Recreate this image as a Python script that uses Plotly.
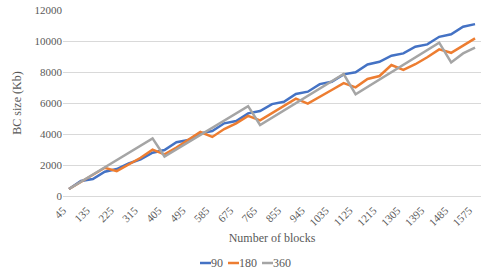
import plotly.graph_objects as go

blocks = [45 * (i + 1) for i in range(35)]
categories = [str(b) for b in blocks]
tick_labels = [str(b) for b in blocks[::2]]
y_ticks = [0, 2000, 4000, 6000, 8000, 10000, 12000]

s90 = [450, 965, 1100, 1570, 1740, 2100, 2360, 2790, 2970, 3470, 3610, 4040, 4190, 4690, 4840, 5330,
       5480, 5930, 6080, 6580, 6730, 7220, 7370, 7850, 7980, 8490, 8660, 9050, 9200, 9630, 9780, 10270,
       10430, 10920, 11090]
s180 = [450, 920, 1380, 1820, 1600, 2060, 2470, 2990, 2680, 3120, 3610, 4130, 3810, 4320, 4690, 5170,
        4880, 5330, 5800, 6280, 5960, 6380, 6840, 7280, 7010, 7550, 7740, 8450, 8140, 8500, 8950, 9460,
        9240, 9700, 10170]
s360 = [450, 920, 1390, 1850, 2320, 2790, 3250, 3720, 2550, 3010, 3480, 3940, 4410, 4870, 5340, 5800,
        4580, 5050, 5520, 6000, 6460, 6930, 7400, 7870, 6560, 7030, 7510, 7980, 8460, 8940, 9410, 9890,
        8620, 9200, 9570]

series = [("90", s90, "#4472C4"), ("180", s180, "#ED7D31"), ("360", s360, "#A5A5A5")]

W, H = 491, 276
L, R, T, B = 63, 10, 10, 80
pw, ph = W - L - R, H - T - B

def px_x(p):
    return (p - L) / pw

def px_y(p):
    return (H - B - p) / ph

fig = go.Figure()
for name, vals, color in series:
    fig.add_trace(go.Scatter(x=categories, y=vals, name=name, mode="lines",
                             line=dict(color=color, width=2.5), showlegend=False))

font = "Liberation Serif"
txt = "#595959"

# custom compact legend (Excel style)
leg_y = 263
leg_items = [(200, "90", "#4472C4"), (228, "180", "#ED7D31"), (262, "360", "#A5A5A5")]
shapes = []
annotations = []
for x0, name, color in leg_items:
    shapes.append(dict(type="line", xref="paper", yref="paper",
                       x0=px_x(x0), x1=px_x(x0 + 11), y0=px_y(leg_y), y1=px_y(leg_y),
                       line=dict(color=color, width=2.5)))
    annotations.append(dict(text=name, xref="paper", yref="paper", x=px_x(x0 + 11), y=px_y(leg_y),
                            xanchor="left", yanchor="middle", showarrow=False, xshift=-2,
                            font=dict(family=font, size=12, color=txt)))

fig.update_layout(
    width=W, height=H,
    margin=dict(l=L, r=R, t=T, b=B),
    paper_bgcolor="white", plot_bgcolor="white",
    font=dict(family=font, size=11, color=txt),
    showlegend=False,
    shapes=shapes, annotations=annotations,
    xaxis=dict(type="category", categoryorder="array", categoryarray=categories,
               range=[-0.5, 34.5], tickmode="array", tickvals=tick_labels, ticktext=tick_labels,
               tickangle=-45, showgrid=False, zeroline=False, showline=False, automargin=False,
               ticks="", ticklabelshift=-6, ticklabelstandoff=5,
               tickfont=dict(family=font, size=11, color=txt),
               title=dict(text="Number of blocks", font=dict(family=font, size=12, color=txt), standoff=6)),
    yaxis=dict(range=[0, 12000], tickmode="array", tickvals=y_ticks, ticktext=[str(v) for v in y_ticks],
               showgrid=True, gridcolor="#D9D9D9", gridwidth=1, zeroline=True, automargin=False,
               zerolinecolor="#D9D9D9", zerolinewidth=1, showline=False, ticks="",
               tickfont=dict(family=font, size=11, color=txt),
               title=dict(text="BC size (Kb)", font=dict(family=font, size=12, color=txt), standoff=10)),
)

fig.write_html("out.html", config={"displayModeBar": False, "staticPlot": True},
               post_script="document.body.style.margin='0';document.body.style.overflow='hidden';")
